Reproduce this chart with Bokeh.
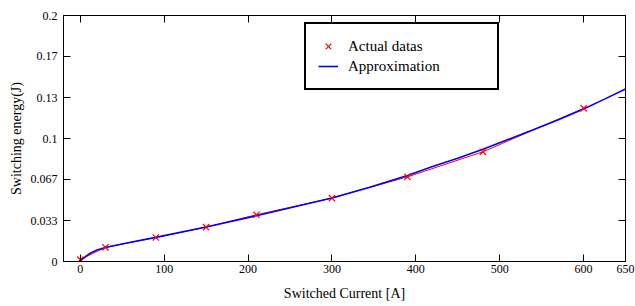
from bokeh.plotting import figure
from bokeh.models import (Range1d, FixedTicker, LinearAxis, Legend, LegendItem,
                          CustomLabelingPolicy)
from bokeh.embed import file_html
from bokeh.resources import INLINE

# Data
current_actual = [0, 30, 90, 150, 210, 300, 390, 480, 600]
energy_actual = [0.0015, 0.0115, 0.0195, 0.0279, 0.0380, 0.0515, 0.0688, 0.0892, 0.1245]

current_approx = [0, 3, 8, 13, 20, 30, 60, 90, 150, 210, 300, 345, 390, 420, 450, 480,
                  510, 540, 570, 600, 625, 650]
energy_approx = [0.0005, 0.0022, 0.0050, 0.0071, 0.0093, 0.0114, 0.0157, 0.0196, 0.0281,
                 0.0372, 0.0517, 0.0603, 0.0700, 0.0772, 0.0840, 0.0912, 0.0992, 0.1072,
                 0.1153, 0.1240, 0.1320, 0.1402]

x_ticks = [0, 100, 200, 300, 400, 500, 600, 650]
y_ticks = [0, 0.033333, 0.066667, 0.1, 0.133333, 0.166667, 0.2]
y_tick_labels = ["0", "0.033", "0.067", "0.1", "0.13", "0.17", "0.2"]

FONT = "Liberation Serif"

p = figure(width=635, height=306, x_range=Range1d(-20, 650), y_range=Range1d(0, 0.2),
           output_backend="svg", toolbar_location=None,
           min_border_left=63, min_border_right=10, min_border_top=15, min_border_bottom=45)
p.xgrid.visible = False
p.ygrid.visible = False
p.outline_line_color = "black"
p.outline_line_width = 1
p.background_fill_color = "white"
p.border_fill_color = "white"

r_line = p.line(current_actual, energy_actual, line_color="red", line_width=1)
b_line = p.line(current_approx, energy_approx, line_color="blue", line_width=1.6)
r_pts = p.scatter(current_actual, energy_actual, marker="x", size=9,
                  line_color="red", line_width=1.2)

def style_axis(ax):
    ax.major_tick_in = 7
    ax.major_tick_out = 0
    ax.minor_tick_line_color = None
    ax.axis_line_color = "black"
    ax.major_tick_line_color = "black"
    ax.major_label_text_font = FONT
    ax.major_label_text_font_size = "12px"
    ax.major_label_text_color = "black"
    ax.axis_label_text_font = FONT
    ax.axis_label_text_font_size = "14px"
    ax.axis_label_text_font_style = "normal"
    ax.axis_label_text_color = "black"

xa = p.xaxis[0]
xa.ticker = FixedTicker(ticks=x_ticks)
style_axis(xa)
xa.axis_label = "Switched Current [A]"
xa.major_label_standoff = 3
xa.axis_label_standoff = 10

ya = p.yaxis[0]
ya.ticker = FixedTicker(ticks=y_ticks)
style_axis(ya)
ya.axis_label = "Switching energy(J)"
ya.major_label_overrides = {t: l for t, l in zip(y_ticks, y_tick_labels)}
ya.major_label_standoff = 6
ya.axis_label_standoff = 4

# tick-only axes on the top and right edges (no labels drawn)
for ticks, side in ((x_ticks, "above"), (y_ticks, "right")):
    ax = LinearAxis(ticker=FixedTicker(ticks=ticks),
                    major_label_policy=CustomLabelingPolicy(code="return new Set()"))
    style_axis(ax)
    ax.major_label_text_font_size = "0px"
    ax.major_label_standoff = 0
    p.add_layout(ax, side)

legend = Legend(items=[LegendItem(label="Actual datas", renderers=[r_pts]),
                       LegendItem(label="Approximation", renderers=[b_line])],
                location=(241, 171), border_line_color="black", border_line_width=2,
                border_line_alpha=1.0,
                padding=12, spacing=0, label_height=20, glyph_width=20, glyph_height=20,
                label_standoff=10, label_width=137, label_text_font=FONT,
                label_text_font_size="15px", label_text_color="black",
                background_fill_color="white", background_fill_alpha=1, margin=0)
p.add_layout(legend)

open("out.html", "w").write(file_html(p, INLINE))
